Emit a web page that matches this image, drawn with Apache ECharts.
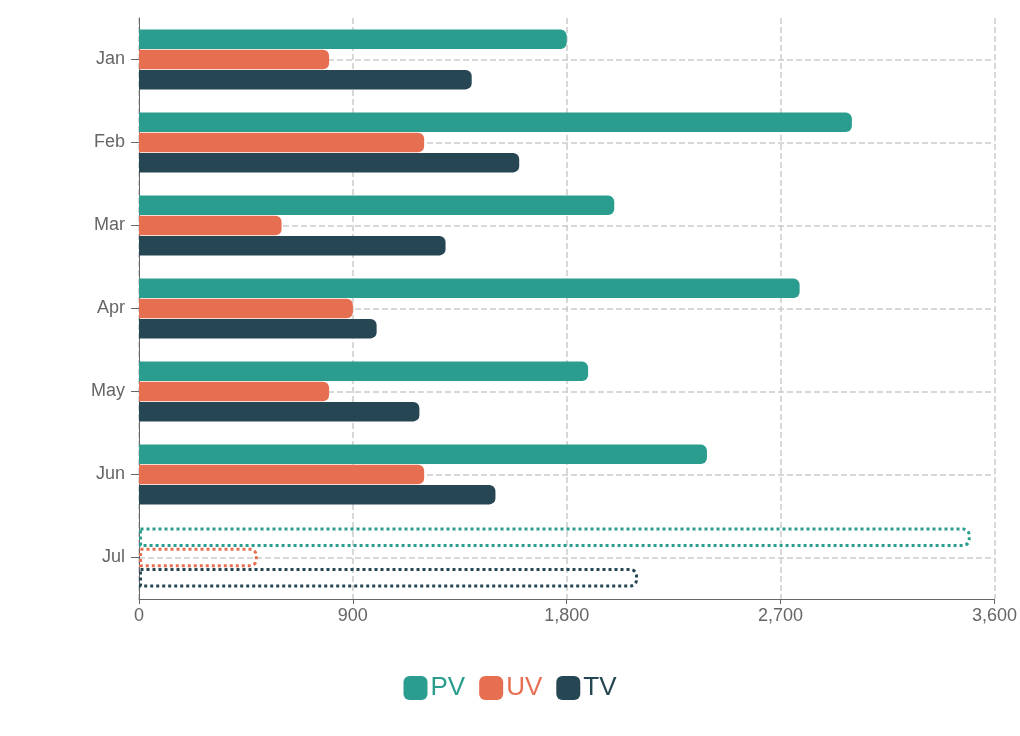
<!DOCTYPE html>
<html><head><meta charset="utf-8">
<script src="https://cdn.jsdelivr.net/npm/echarts@6/dist/echarts.min.js"></script>
<style>html,body{margin:0;padding:0;background:#fff}#c{width:1020px;height:736px}</style>
</head><body><div id="c"></div>
<script>
const categories = ['Jan','Feb','Mar','Apr','May','Jun','Jul'];
const pv = [1800,3000,2000,2780,1890,2390,3500];
const uv = [800,1200,600,900,800,1200,500];
const tv = [1400,1600,1290,1000,1180,1500,2100];
const xTicks = [0,900,1800,2700,3600];
const colors = {PV:'#2a9d8f', UV:'#e76f51', TV:'#264653'};

function mk(name, vals){
  const c = colors[name];
  return {
    name, type:'bar', barGap:'5%', barCategoryGap:'28%',
    itemStyle:{color:c, borderRadius:[0,6,6,0]},
    data: vals.map((v,i)=> i===vals.length-1 ? {value:v, itemStyle:{color:'rgba(0,0,0,0)', borderColor:c, borderWidth:3, borderType:'dotted', borderRadius:[0,6,6,0]}} : v)
  };
}
const chart = echarts.init(document.getElementById('c'));
chart.setOption({
  animation:false,
  grid:{left:139, right:21, top:18, bottom:137},
  xAxis:{type:'value', min:0, max:3600, interval:900,
    axisLine:{show:true, lineStyle:{color:'#666'}}, axisTick:{show:true, lineStyle:{color:'#666'}},
    axisLabel:{color:'#666', fontSize:18, fontFamily:'Liberation Sans', formatter:v=>xTicks.includes(v)?v.toLocaleString('en-US'):''},
    splitLine:{show:true, lineStyle:{type:'dashed', color:'#ccc', width:1.5}}},
  yAxis:{type:'category', inverse:true, data:categories,
    axisLine:{show:true, lineStyle:{color:'#666'}},
    axisTick:{show:true, alignWithLabel:true, length:8, lineStyle:{color:'#666'}},
    axisLabel:{color:'#666', fontSize:18, fontFamily:'Liberation Sans', margin:14},
    splitLine:{show:true, alignWithLabel:true, lineStyle:{type:'dashed', color:'#ccc', width:1.5}}},
  legend:{bottom:30, left:'center', icon:'roundRect', itemWidth:24, itemHeight:24, itemGap:14,
    textStyle:{fontSize:26, fontFamily:'Liberation Sans', padding:[0,0,0,-2]},
    data:['PV','UV','TV'].map(n=>({name:n, textStyle:{color:colors[n]}}))},
  series:[mk('PV',pv), mk('UV',uv), mk('TV',tv)]
});
</script></body></html>
